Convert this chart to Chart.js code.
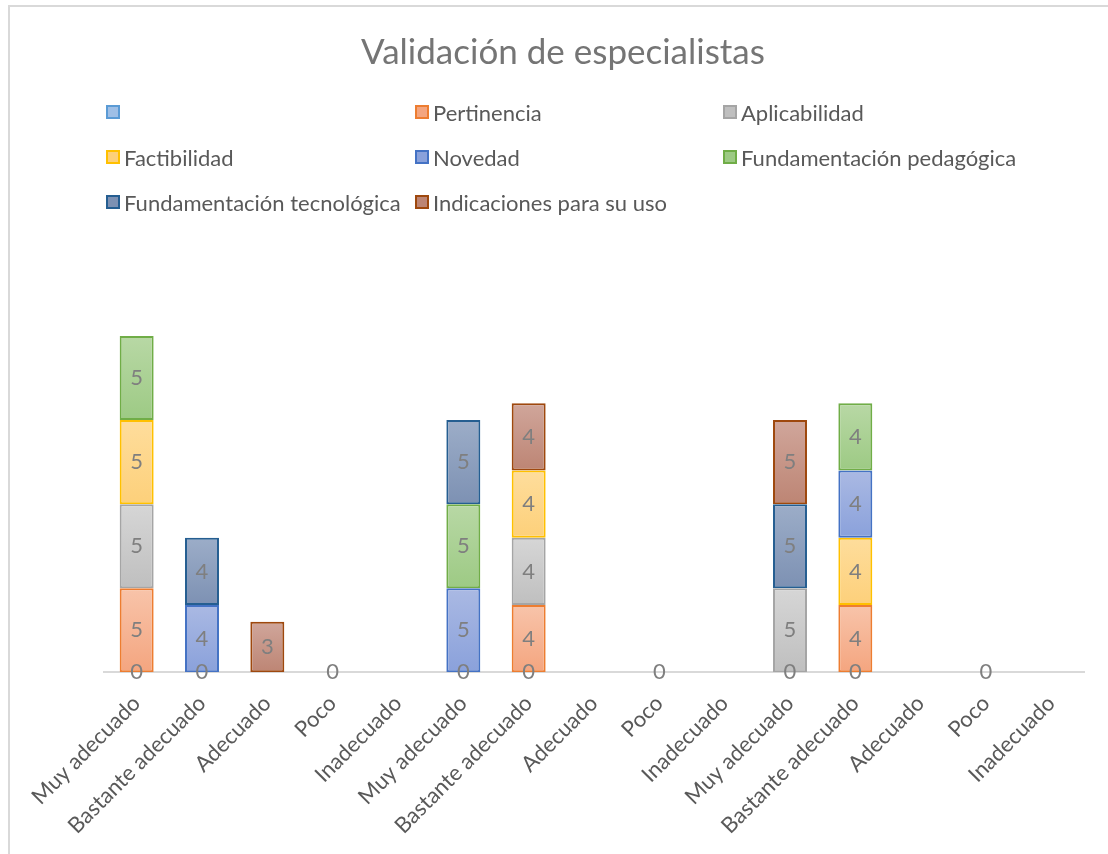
<!DOCTYPE html>
<html>
<head>
<meta charset="utf-8">
<script src="https://cdn.jsdelivr.net/npm/chart.js@4"></script>
<style>
    html, body { margin: 0; padding: 0; background: #fff; }
    #wrap { position: relative; width: 1108px; height: 854px; overflow: hidden; }
    #frame { position: absolute; left: 8px; top: 5px; width: 1200px; height: 900px;
             border-top: 2px solid #d9d9d9; border-left: 2px solid #d9d9d9; }
    #title { position: absolute; left: 8px; top: 29px; width: 1110px; text-align: center;
             font-family: Lato, sans-serif; font-size: 35px; line-height: 42px; color: #757575; }
    #legend { position: absolute; left: 106px; top: 98px; width: 1000px;
              display: grid; grid-template-columns: 309px 308px 300px; row-gap: 17px;
              font-family: Lato, sans-serif; font-size: 22px; color: #595959; }
    #legend div { display: flex; align-items: center; height: 28px; white-space: nowrap; }
    #legend span.box { display: inline-block; width: 10px; height: 10px; border: 2px solid; margin-right: 4px; }
</style>
</head>
<body>
<div id="wrap">
    <div id="frame"></div>
    <canvas id="chart" width="1108" height="854"></canvas>
    <div id="title"></div>
    <div id="legend"></div>
</div>
<script>
const chartTitle = 'Validación de especialistas';

const categories = ['Muy adecuado', 'Bastante adecuado', 'Adecuado', 'Poco', 'Inadecuado',
                    'Muy adecuado', 'Bastante adecuado', 'Adecuado', 'Poco', 'Inadecuado',
                    'Muy adecuado', 'Bastante adecuado', 'Adecuado', 'Poco', 'Inadecuado'];

const seriesNames = ['', 'Pertinencia', 'Aplicabilidad', 'Factibilidad', 'Novedad',
                     'Fundamentación pedagógica', 'Fundamentación tecnológica', 'Indicaciones para su uso'];

const blankValues        = [0, 0, null, 0, null, 0, 0, null, 0, null, 0, 0, null, 0, null];
const pertinencia        = [5, null, null, null, null, null, 4, null, null, null, null, 4, null, null, null];
const aplicabilidad      = [5, null, null, null, null, null, 4, null, null, null, 5, null, null, null, null];
const factibilidad       = [5, null, null, null, null, null, 4, null, null, null, null, 4, null, null, null];
const novedad            = [null, 4, null, null, null, 5, null, null, null, null, null, 4, null, null, null];
const fundPedagogica     = [5, null, null, null, null, 5, null, null, null, null, null, 4, null, null, null];
const fundTecnologica    = [null, 4, null, null, null, 5, null, null, null, null, 5, null, null, null, null];
const indicaciones       = [null, null, 3, null, null, null, 4, null, null, null, 5, null, null, null, null];

const seriesValues = [blankValues, pertinencia, aplicabilidad, factibilidad, novedad,
                      fundPedagogica, fundTecnologica, indicaciones];

// top colour, bottom colour, border
const palette = [
    ['#c3d7ef', '#9fbfe6', '#5b9bd5'],
    ['#f8c4aa', '#f4a57f', '#ed7d31'],
    ['#d6d6d6', '#bfbfbf', '#a5a5a5'],
    ['#fedd9c', '#fdd07a', '#ffc000'],
    ['#aab9e3', '#8aa1db', '#4472c4'],
    ['#b8d8a5', '#9dca84', '#70ad47'],
    ['#9cadc8', '#7d91b3', '#255e91'],
    ['#d0a69b', '#bd8574', '#9e480e']
];

function stackStart(di, i) {
    let s = 0;
    for (let k = 0; k < di; k++) s += seriesValues[k][i] || 0;
    return s;
}

// simple value labels in the middle of each segment
const valueLabels = {
    id: 'valueLabels',
    afterDatasetsDraw(chart) {
        const ctx = chart.ctx;
        ctx.save();
        ctx.font = '22px Lato, sans-serif';
        ctx.fillStyle = '#7f7f7f';
        ctx.textAlign = 'center';
        ctx.textBaseline = 'middle';
        chart.data.datasets.forEach((ds, di) => {
            chart.getDatasetMeta(di).data.forEach((bar, i) => {
                const v = ds.data[i];
                if (v === null || v === undefined) return;
                ctx.fillText(String(v), bar.x, (bar.y + bar.base) / 2);
            });
        });
        ctx.restore();
    }
};

document.addEventListener('DOMContentLoaded', function () {
    document.getElementById('title').textContent = chartTitle;

    const datasets = seriesNames.map((name, di) => ({
        label: name,
        data: seriesValues[di],
        borderColor: palette[di][2],
        borderWidth: 2,
        borderSkipped: false,
        backgroundColor: function (c) {
            const chart = c.chart;
            const y = chart.scales && chart.scales.y;
            if (c.type !== 'data' || !y || !chart.chartArea) return palette[di][1];
            const start = stackStart(di, c.dataIndex);
            const v = seriesValues[di][c.dataIndex] || 0;
            const y0 = y.getPixelForValue(start);
            const y1 = y.getPixelForValue(start + v);
            if (y0 === y1) return palette[di][1];
            const g = chart.ctx.createLinearGradient(0, y1, 0, y0);
            g.addColorStop(0, palette[di][0]);
            g.addColorStop(1, palette[di][1]);
            return g;
        }
    }));

    new Chart(document.getElementById('chart').getContext('2d'), {
        type: 'bar',
        data: { labels: categories, datasets: datasets },
        plugins: [valueLabels],
        options: {
            responsive: false,
            animation: false,
            layout: { padding: { left: 104, right: 24, top: 252, bottom: 5 } },
            datasets: { bar: { barPercentage: 0.52, categoryPercentage: 1 } },
            plugins: {
                legend: { display: false },
                tooltip: { enabled: false },
                title: { display: false }
            },
            scales: {
                x: {
                    stacked: true,
                    grid: { display: false },
                    border: { display: true, color: '#d9d9d9', width: 2 },
                    ticks: {
                        color: '#595959',
                        font: { family: 'Lato, sans-serif', size: 22 },
                        minRotation: 45,
                        maxRotation: 45,
                        autoSkip: false,
                        padding: 10
                    }
                },
                y: {
                    stacked: true,
                    display: false,
                    min: 0,
                    max: 25
                }
            }
        }
    });

    // legend in three columns, like the original
    const legend = document.getElementById('legend');
    seriesNames.forEach((name, di) => {
        const item = document.createElement('div');
        const box = document.createElement('span');
        box.className = 'box';
        box.style.background = palette[di][1];
        box.style.borderColor = palette[di][2];
        item.appendChild(box);
        item.appendChild(document.createTextNode(name));
        legend.appendChild(item);
    });
});
</script>
</body>
</html>
